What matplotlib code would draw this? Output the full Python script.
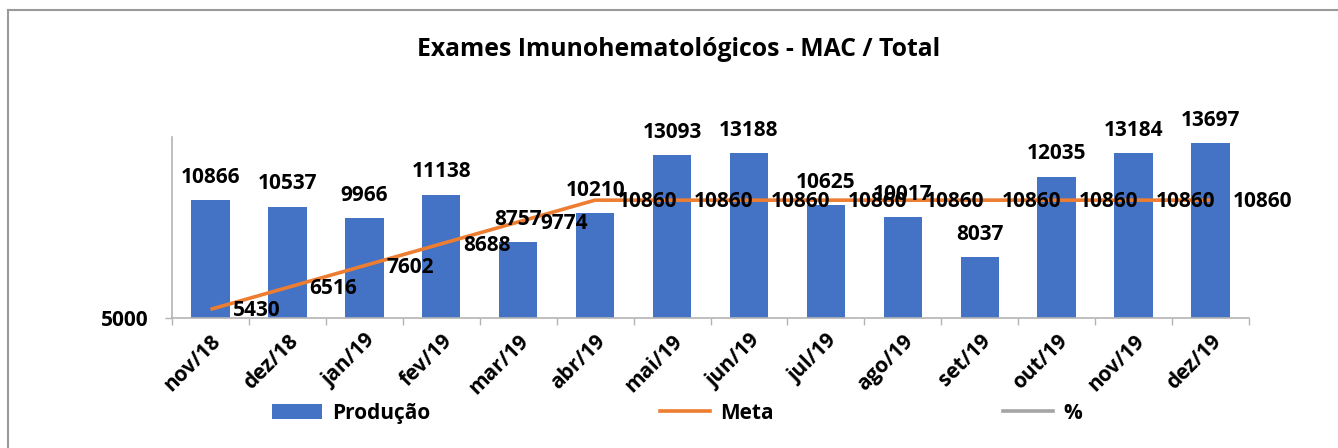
import numpy as np
import matplotlib.pyplot as plt
from matplotlib.patches import Patch
from matplotlib.lines import Line2D

plt.rcParams['font.family'] = ['Open Sans', 'DejaVu Sans']
plt.rcParams['font.weight'] = 'bold'

months = ['nov/18', 'dez/18', 'jan/19', 'fev/19', 'mar/19', 'abr/19', 'mai/19',
          'jun/19', 'jul/19', 'ago/19', 'set/19', 'out/19', 'nov/19', 'dez/19']
producao = [10866, 10537, 9966, 11138, 8757, 10210, 13093,
            13188, 10625, 10017, 8037, 12035, 13184, 13697]
meta = [5430, 6516, 7602, 8688, 9774, 10860, 10860,
        10860, 10860, 10860, 10860, 10860, 10860, 10860]

BLUE = '#4472C4'
ORANGE = '#ED7D31'
GRAY = '#A5A5A5'
AXIS = '#B4B4B4'
FS = 15


def main():
    fig = plt.figure(figsize=(13.38, 4.48), dpi=100)
    ax = fig.add_axes([172 / 1338, 1 - 318 / 448, (1249 - 172) / 1338, (318 - 137) / 448])

    x = np.arange(len(months))
    base = 5000
    ax.bar(x, np.array(producao) - base, bottom=base, width=0.5, color=BLUE, zorder=2)
    ax.plot(x, meta, color=ORANGE, lw=2.6, solid_capstyle='butt', zorder=3)

    for xi, v in zip(x, producao):
        ax.annotate(str(v), (xi, v), xytext=(0, 12.5), textcoords='offset points',
                    ha='center', va='baseline', fontsize=FS, fontweight='bold', zorder=4)
    for xi, v in zip(x, meta):
        ax.annotate(str(v), (xi, v), xytext=(16, -1), textcoords='offset points',
                    ha='left', va='center', fontsize=FS, fontweight='bold', zorder=4)

    ax.set_xlim(-0.5, len(months) - 0.5)
    ax.set_ylim(5000, 14000)
    ax.set_yticks([5000])
    ax.set_yticklabels(['5000'], fontsize=FS, fontweight='bold')
    ax.tick_params(axis='y', length=5, color=AXIS, width=1, pad=12)

    ax.set_xticks(x)
    ax.set_xticklabels(months, rotation=45, ha='right', rotation_mode='anchor',
                       fontsize=FS, fontweight='bold')
    ax.set_xticks(np.arange(len(months) + 1) - 0.5, minor=True)
    ax.tick_params(axis='x', which='major', length=0, pad=9)
    ax.tick_params(axis='x', which='minor', length=5, color=AXIS, width=1)

    for s in ['top', 'right']:
        ax.spines[s].set_visible(False)
    for s in ['left', 'bottom']:
        ax.spines[s].set_color(AXIS)
        ax.spines[s].set_linewidth(1.2)

    fig.text(0.507, 1 - 49 / 448, 'Exames Imunohematológicos - MAC / Total',
             ha='center', va='center', fontsize=17.8, fontweight='bold')

    handles = [Patch(facecolor=BLUE), Line2D([], [], color=ORANGE, lw=2.6),
               Line2D([], [], color=GRAY, lw=2.6)]
    fig.legend(handles, ['Produção', 'Meta', '%'], loc='center',
               bbox_to_anchor=(0.506, 1 - 413 / 448), ncol=3, frameon=False,
               fontsize=FS, handlelength=2.4, handletextpad=0.5, columnspacing=11)

    fig.add_artist(Line2D([8 / 1338, 1], [1 - 10 / 448, 1 - 10 / 448], color='#9a9a9a', lw=1.5))
    fig.add_artist(Line2D([8 / 1338, 8 / 1338], [0, 1 - 10 / 448], color='#9a9a9a', lw=1.5))

    fig.savefig('out.png', dpi=100)


if __name__ == "__main__":
    main()
